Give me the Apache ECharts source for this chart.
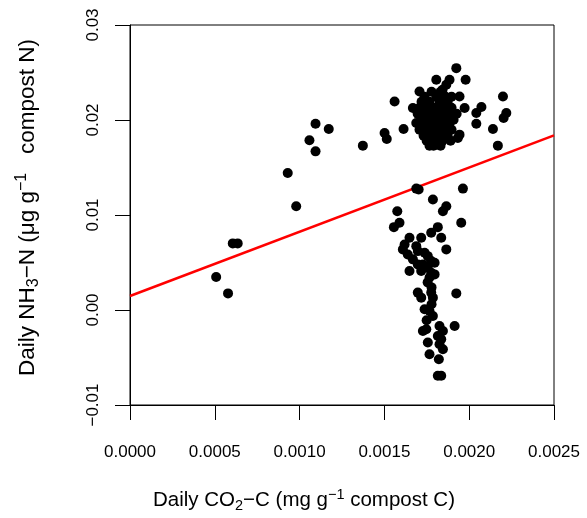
<!DOCTYPE html>
<html><head><meta charset="utf-8">
<script src="https://cdn.jsdelivr.net/npm/echarts@6/dist/echarts.min.js"></script>
<style>html,body{margin:0;padding:0;background:#fff}#c{width:587px;height:518px}</style>
</head><body><div id="c"></div>
<script>
// Daily CO2-C (x) and daily NH3-N (y) observations
const co2 = [
  0.000508, 0.000578, 0.000606, 0.000635, 0.000930, 0.000980, 0.001058, 0.001094, 0.001094, 0.001172,
  0.001373, 0.001501, 0.001514, 0.001560, 0.001613,
  0.002199, 0.002219, 0.002203, 0.002140, 0.002169, 0.002042, 0.002072, 0.002042, 0.001973, 0.001943,
  0.001979, 0.001924, 0.001884, 0.001806, 0.001865, 0.001843, 0.001707, 0.001933, 0.001943, 0.001668, 0.001688,
  0.001778, 0.001831,
  0.001737, 0.001808, 0.001861, 0.001896,
  0.001719, 0.001766, 0.001825, 0.001873,
  0.001707, 0.001755, 0.001802, 0.001849, 0.001896,
  0.001696, 0.001743, 0.001790, 0.001837, 0.001884, 0.001926,
  0.001719, 0.001766, 0.001814, 0.001861, 0.001908,
  0.001743, 0.001790, 0.001837, 0.001884,
  0.001707, 0.001755, 0.001802, 0.001849, 0.001896,
  0.001731, 0.001778, 0.001825, 0.001873,
  0.001749, 0.001796, 0.001843, 0.001890,
  0.001766, 0.001790, 0.001831,
  0.001688, 0.001702, 0.001963, 0.001786, 0.001865, 0.001845, 0.001576, 0.001589, 0.001556, 0.001953,
  0.001815, 0.001776, 0.001648, 0.001717, 0.001835, 0.001619, 0.001609, 0.001688, 0.001697, 0.001865,
  0.001737, 0.001756, 0.001638, 0.001668, 0.001776, 0.001796, 0.001697, 0.001727, 0.001755, 0.001648,
  0.001717, 0.001776, 0.001796, 0.001766, 0.001755, 0.001778, 0.001697, 0.001717, 0.001776, 0.001786,
  0.001924, 0.001737, 0.001766, 0.001786, 0.001727, 0.001747, 0.001825, 0.001845, 0.001815, 0.001835,
  0.001825, 0.001845, 0.001914, 0.001756, 0.001766, 0.001821, 0.001815, 0.001835, 0.001778, 0.001749
];
const nh3 = [
  0.00347, 0.00175, 0.00701, 0.00701, 0.01443, 0.01092, 0.01786, 0.01670, 0.01961, 0.01905,
  0.01730, 0.01863, 0.01800, 0.02195, 0.01905,
  0.02248, 0.02073, 0.02021, 0.01905, 0.01730, 0.02073, 0.02136, 0.01961, 0.02126, 0.02248,
  0.02423, 0.02546, 0.02423, 0.02423, 0.02371, 0.02318, 0.02300, 0.01811, 0.01846, 0.02126, 0.01968,
  0.02297, 0.02297,
  0.02245, 0.02245, 0.02245, 0.02245,
  0.02192, 0.02192, 0.02192, 0.02192,
  0.02129, 0.02129, 0.02129, 0.02129, 0.02129,
  0.02066, 0.02066, 0.02066, 0.02066, 0.02066, 0.02066,
  0.02003, 0.02003, 0.02003, 0.02003, 0.02003,
  0.01961, 0.01961, 0.01961, 0.01961,
  0.01898, 0.01898, 0.01898, 0.01898, 0.01898,
  0.01835, 0.01835, 0.01835, 0.01835,
  0.01782, 0.01782, 0.01782, 0.01782,
  0.01730, 0.01730, 0.01730,
  0.01278, 0.01268, 0.01278, 0.01163, 0.01092, 0.01040, 0.01040, 0.00918, 0.00872, 0.00918,
  0.00872, 0.00813, 0.00760, 0.00760, 0.00760, 0.00690, 0.00638, 0.00672, 0.00620, 0.00638,
  0.00603, 0.00567, 0.00585, 0.00533, 0.00515, 0.00498, 0.00480, 0.00480, 0.00449, 0.00410,
  0.00410, 0.00393, 0.00375, 0.00343, 0.00291, 0.00238, 0.00183, 0.00130, 0.00183, 0.00130,
  0.00175, 0.00007, -0.00011, -0.00063, -0.00221, -0.00203, -0.00168, -0.00221, -0.00273, -0.00308,
  -0.00360, -0.00413, -0.00168, -0.00342, -0.00465, -0.00518, -0.00693, -0.00693, 0.00060, -0.00108
];
// Fitted regression line end points
const fitX = [0, 0.0025];
const fitY = [0.00147, 0.01838];
// Tick labels
const xTickLabels = ['0.0000', '0.0005', '0.0010', '0.0015', '0.0020', '0.0025'];
const yTickLabels = ['\u22120.01', '0.00', '0.01', '0.02', '0.03'];

const FONT = '"Liberation Sans", Arial, Helvetica, sans-serif';
const points = co2.map((x, i) => [x, nh3[i]]);
const fitLine = fitX.map((x, i) => [x, fitY[i]]);

const xRich = {
  sub: {fontSize: 14.5, fontFamily: FONT, color: '#000', verticalAlign: 'bottom', padding: [11, 0, 0, 0]},
  sup: {fontSize: 14.5, fontFamily: FONT, color: '#000', verticalAlign: 'top', padding: [0, 0, 9, 0]}
};
const yRich = {
  sub: {fontSize: 16, fontFamily: FONT, color: '#000', verticalAlign: 'bottom', padding: [12, 0, 0, 0]},
  sup: {fontSize: 16, fontFamily: FONT, color: '#000', verticalAlign: 'top', padding: [0, 0, 10, 0]}
};

const chart = echarts.init(document.getElementById('c'), null, {renderer: 'canvas'});
chart.setOption({
  animation: false,
  backgroundColor: '#fff',
  grid: {left: 130, right: 33, top: 25, bottom: 112, show: true, borderColor: '#000', borderWidth: 1},
  xAxis: {
    type: 'value', min: 0, max: 0.0025, interval: 0.0005,
    axisLine: {show: true, onZero: false, lineStyle: {color: '#000', width: 1}},
    axisTick: {show: true, length: 15, lineStyle: {color: '#000', width: 1}},
    splitLine: {show: false},
    axisLabel: {
      margin: 39, color: '#000', fontSize: 17, fontFamily: FONT,
      showMinLabel: true, showMaxLabel: true,
      formatter: v => xTickLabels[Math.round(v / 0.0005)]
    },
    name: 'Daily CO{sub|2}\u2212C (mg g{sup|\u22121} compost C)',
    nameLocation: 'middle', nameGap: 82,
    nameTextStyle: {
      color: '#000', fontSize: 20.5, fontFamily: FONT, padding: [0, 76, 0, 0],
      rich: xRich
    }
  },
  yAxis: {
    type: 'value', min: -0.01, max: 0.03, interval: 0.01,
    axisLine: {show: true, onZero: false, lineStyle: {color: '#000', width: 1}},
    axisTick: {show: true, length: 15, lineStyle: {color: '#000', width: 1}},
    splitLine: {show: false},
    axisLabel: {
      margin: 28, rotate: 90, color: '#000', fontSize: 17, fontFamily: FONT,
      showMinLabel: true, showMaxLabel: true,
      formatter: v => yTickLabels[Math.round((v + 0.01) / 0.01)]
    },
    name: 'Daily NH{sub|3}\u2212N (\u03bcg g{sup|\u22121}   compost N)',
    nameLocation: 'middle', nameGap: 88,
    nameTextStyle: {
      color: '#000', fontSize: 22.5, fontFamily: FONT, padding: [0, 0, 0, 15],
      rich: yRich
    }
  },
  series: [
    {type: 'line', data: fitLine, symbol: 'none', z: 2,
     lineStyle: {color: '#ff0000', width: 2.5}, silent: true},
    {type: 'scatter', data: points, symbol: 'circle', symbolSize: 10, z: 3,
     itemStyle: {color: '#000', opacity: 1}, silent: true}
  ]
});
</script>
</body></html>
